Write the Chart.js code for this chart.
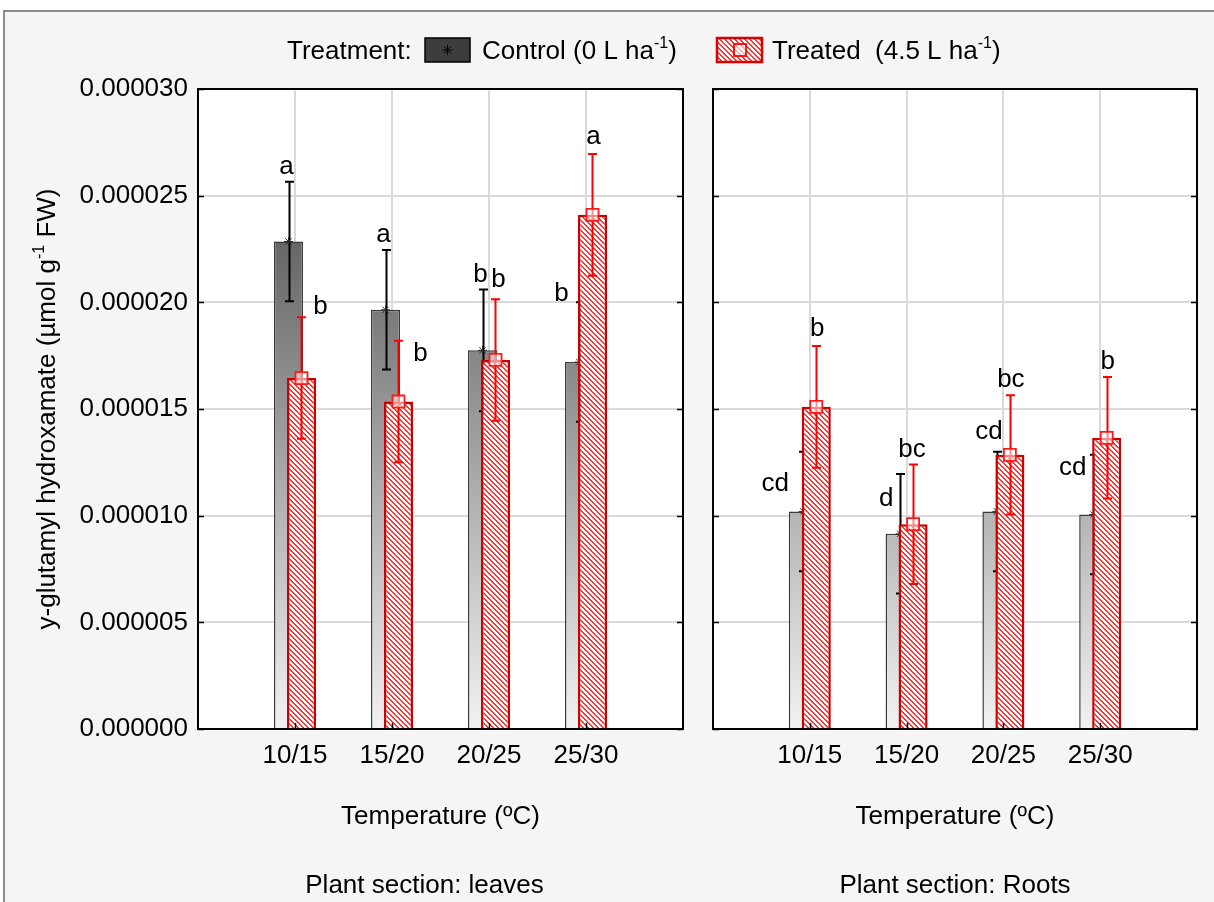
<!DOCTYPE html>
<html>
<head>
<meta charset="utf-8">
<script src="https://cdn.jsdelivr.net/npm/chart.js@4.4.1/dist/chart.umd.min.js"></script>
<style>
  html, body { margin: 0; padding: 0; background: #ffffff; width: 1214px; height: 902px; overflow: hidden; }
  #frame { position: absolute; left: 3px; top: 10px; width: 1300px; height: 1000px; background: #f5f5f5;
           border-left: 2px solid #8c8c8c; border-top: 2px solid #8c8c8c; }
  canvas { position: absolute; left: 0; top: 0; }
</style>
</head>
<body>
<div id="frame"></div>
<canvas id="leaves" width="1214" height="902"></canvas>
<canvas id="roots" width="1214" height="902"></canvas>
<script>
// ---- data: γ-glutamyl hydroxamate (µmol g-1 FW), mean ± error ----
const temperatures = ['10/15', '15/20', '20/25', '25/30'];
const yTickLabels = ['0.000000', '0.000005', '0.000010', '0.000015', '0.000020', '0.000025', '0.000030'];

const leavesControlMean = [22.85e-6, 19.65e-6, 17.75e-6, 17.2e-6];
const leavesControlErr  = [2.8e-6, 2.8e-6, 2.85e-6, 2.8e-6];
const leavesTreatedMean = [16.45e-6, 15.35e-6, 17.3e-6, 24.1e-6];
const leavesTreatedErr  = [2.85e-6, 2.85e-6, 2.85e-6, 2.85e-6];

const rootsControlMean = [10.2e-6, 9.15e-6, 10.2e-6, 10.05e-6];
const rootsControlErr  = [2.8e-6, 2.8e-6, 2.8e-6, 2.8e-6];
const rootsTreatedMean = [15.1e-6, 9.6e-6, 12.85e-6, 13.65e-6];
const rootsTreatedErr  = [2.85e-6, 2.8e-6, 2.8e-6, 2.85e-6];

// significance letters
const leavesControlLetters = ['a', 'a', 'b', 'b'];
const leavesTreatedLetters = ['b', 'b', 'b', 'a'];
const rootsControlLetters  = ['cd', 'd', 'cd', 'cd'];
const rootsTreatedLetters  = ['b', 'bc', 'bc', 'b'];

// ---- layout ----
const FONT = '"Liberation Sans", Arial, sans-serif';
const FS = 26;
const PLOT_TOP = 89, PLOT_BOTTOM = 729;
const BAR_SHIFT = 0.067;    // half the offset between the two bars of a group (axis units)
const BAR_FRAC = 0.30;      // bar width as a fraction of one category step
const GRID = '#dadada';

// letter offsets (px) from the top of each error bar
const leavesControlLetterPos = [[-2, -15], [-2, -15], [-2, -15], [-18, -9]];
const leavesTreatedLetterPos = [[19, -10], [22, 13], [3, -19], [1, -17]];
const rootsControlLetterPos  = [[-28, 32], [-14, 25], [-8, -20], [-21, 13]];
const rootsTreatedLetterPos  = [[1, -17], [-1, -15], [1, -15], [1, -15]];

// hatched fill for treated bars
function makeHatch() {
  const s = 5, c = document.createElement('canvas');
  c.width = s; c.height = s;
  const g = c.getContext('2d');
  const img = g.createImageData(s, s);
  for (let y = 0; y < s; y++) for (let x = 0; x < s; x++) {
    const k = (((x - y) % s) + s) % s;
    const red = k < 2;
    const p = (y * s + x) * 4;
    img.data[p] = 255; img.data[p + 1] = red ? 50 : 255; img.data[p + 2] = red ? 50 : 255; img.data[p + 3] = 255;
  }
  g.putImageData(img, 0, 0);
  return c;
}
const hatchTile = makeHatch();

function controlFill(chart) {
  const a = chart.chartArea;
  if (!a) return '#888';
  const gr = chart.ctx.createLinearGradient(0, a.top, 0, a.bottom);
  gr.addColorStop(0, '#3a3a3a');
  gr.addColorStop(1, '#f2f2f2');
  return gr;
}
function treatedFill(chart) {
  return chart.ctx.createPattern(hatchTile, 'repeat');
}

function richText(ctx, x, y, parts, size, align) {
  const fonts = parts.map(p => (p.sup ? Math.round(size * 0.62) : size) + 'px ' + FONT);
  let total = 0;
  const widths = parts.map((p, i) => { ctx.font = fonts[i]; const w = ctx.measureText(p.t).width; total += w; return w; });
  let cx = align === 'center' ? x - total / 2 : x;
  ctx.textAlign = 'left';
  ctx.textBaseline = 'alphabetic';
  parts.forEach((p, i) => {
    ctx.font = fonts[i];
    ctx.fillText(p.t, cx, y - (p.sup ? size * 0.42 : 0));
    cx += widths[i];
  });
}

function drawStar(ctx, x, y, r) {
  ctx.beginPath();
  for (let k = 0; k < 4; k++) {
    const a = k * Math.PI / 4;
    ctx.moveTo(x - r * Math.cos(a), y - r * Math.sin(a));
    ctx.lineTo(x + r * Math.cos(a), y + r * Math.sin(a));
  }
  ctx.stroke();
}

function drawLegend(ctx) {
  ctx.save();
  ctx.fillStyle = '#000';
  richText(ctx, 287, 59, [{ t: 'Treatment:' }], FS, 'left');
  // control swatch
  ctx.fillStyle = '#3d3d3d';
  ctx.fillRect(425, 38, 45, 24);
  ctx.strokeStyle = '#000'; ctx.lineWidth = 1.5;
  ctx.strokeRect(425, 38, 45, 24);
  ctx.strokeStyle = '#000'; ctx.lineWidth = 1;
  drawStar(ctx, 447.5, 50, 5);
  ctx.fillStyle = '#000';
  richText(ctx, 482, 59, [{ t: 'Control (0 L ha' }, { t: '-1', sup: true }, { t: ')' }], FS, 'left');
  // treated swatch
  ctx.fillStyle = ctx.createPattern(hatchTile, 'repeat');
  ctx.fillRect(717, 38, 45, 24);
  ctx.strokeStyle = '#dd0000'; ctx.lineWidth = 2.5;
  ctx.strokeRect(717, 38, 45, 24);
  ctx.strokeStyle = '#ff0000'; ctx.lineWidth = 1.8;
  ctx.fillStyle = 'rgba(255,255,255,0.6)';
  ctx.fillRect(734, 44, 12, 12);
  ctx.strokeRect(734, 44, 12, 12);
  ctx.fillStyle = '#000';
  richText(ctx, 772, 59, [{ t: 'Treated  (4.5 L ha' }, { t: '-1', sup: true }, { t: ')' }], FS, 'left');
  ctx.restore();
}

const panelDecor = {
  id: 'panelDecor',
  beforeDraw(chart) {
    const a = chart.chartArea, ctx = chart.ctx;
    ctx.save();
    ctx.fillStyle = '#ffffff';
    ctx.fillRect(a.left, a.top, a.right - a.left, a.bottom - a.top);
    ctx.restore();
  },
  afterDatasetDraw(chart, args) {
    const ds = chart.data.datasets[args.index];
    if (!ds.errors) return;
    const meta = args.meta, xs = meta.xScale, ys = meta.yScale, ctx = chart.ctx;
    ctx.save();
    ctx.strokeStyle = ds.errColor;
    ctx.lineWidth = 2;
    ds.data.forEach((pt, i) => {
      const x = Math.round(xs.getPixelForValue(pt.x)) + 0.5;
      const yT = ys.getPixelForValue(pt.y + ds.errors[i]);
      const yB = ys.getPixelForValue(pt.y - ds.errors[i]);
      ctx.beginPath();
      ctx.moveTo(x, yT); ctx.lineTo(x, yB);
      ctx.moveTo(x - 4.5, yT); ctx.lineTo(x + 4.5, yT);
      ctx.moveTo(x - 4.5, yB); ctx.lineTo(x + 4.5, yB);
      ctx.stroke();
    });
    ctx.restore();
  },
  afterDraw(chart, args, opts) {
    const a = chart.chartArea, ctx = chart.ctx;
    const y = chart.scales.y, x = chart.scales.x;
    ctx.save();
    // frame
    ctx.strokeStyle = '#000';
    ctx.lineWidth = 2;
    ctx.strokeRect(a.left, a.top, a.right - a.left, a.bottom - a.top);
    // inward ticks
    ctx.lineWidth = 1.5;
    ctx.beginPath();
    y.ticks.forEach(t => {
      const py = Math.round(y.getPixelForValue(t.value)) + 0.5;
      ctx.moveTo(a.left, py); ctx.lineTo(a.left + 6, py);
      ctx.moveTo(a.right, py); ctx.lineTo(a.right - 6, py);
    });
    for (let i = 1; i <= temperatures.length; i++) {
      const px = Math.round(x.getPixelForValue(i)) + 0.5;
      ctx.moveTo(px, a.bottom); ctx.lineTo(px, a.bottom - 6);
    }
    ctx.stroke();

    // significance letters
    ctx.fillStyle = '#000';
    ctx.font = FS + 'px ' + FONT;
    ctx.textAlign = 'center';
    ctx.textBaseline = 'middle';
    chart.data.datasets.forEach((ds, di) => {
      if (!ds.letters) return;
      const meta = chart.getDatasetMeta(di);
      ds.data.forEach((pt, i) => {
        const bx = meta.xScale.getPixelForValue(pt.x);
        const top = meta.yScale.getPixelForValue(pt.y + ds.errors[i]);
        const off = ds.letterPos[i];
        ctx.fillText(ds.letters[i], bx + off[0], top + off[1]);
      });
    });

    // axis and panel titles
    const midX = (a.left + a.right) / 2;
    richText(ctx, midX, a.bottom + 95, [{ t: 'Temperature (ºC)' }], FS, 'center');
    richText(ctx, midX + opts.sectionShift, a.bottom + 164, [{ t: opts.section }], FS, 'center');

    if (opts.yTitle) {
      ctx.save();
      ctx.translate(55, (a.top + a.bottom) / 2);
      ctx.rotate(-Math.PI / 2);
      richText(ctx, 0, 0, [{ t: 'y-glutamyl hydroxamate (µmol g' }, { t: '-1', sup: true }, { t: ' FW)' }], FS, 'center');
      ctx.restore();
    }
    if (opts.legend) drawLegend(ctx);
    ctx.restore();
  }
};

function makeDatasets(cMean, cErr, cLet, cPos, tMean, tErr, tLet, tPos) {
  const pts = arr => arr.map((v, i) => ({ x: i + 1, y: v }));
  return [
    { type: 'bar', label: 'Control', xAxisID: 'xC', yAxisID: 'y', data: pts(cMean),
      errors: cErr, errColor: '#000000', letters: cLet, letterPos: cPos,
      backgroundColor: c => controlFill(c.chart), borderColor: '#3a3a3a', borderWidth: 1.5,
      borderSkipped: 'bottom', grouped: false, categoryPercentage: 1, barPercentage: BAR_FRAC, order: 4 },
    { type: 'scatter', xAxisID: 'xC', yAxisID: 'y', data: pts(cMean),
      pointStyle: 'star', pointRadius: 4.5, borderColor: '#2a2a2a', borderWidth: 1,
      backgroundColor: 'transparent', order: 3 },
    { type: 'bar', label: 'Treated', xAxisID: 'xT', yAxisID: 'y', data: pts(tMean),
      errors: tErr, errColor: '#ff0000', letters: tLet, letterPos: tPos,
      backgroundColor: c => treatedFill(c.chart), borderColor: '#cc0000', borderWidth: 2.5,
      borderSkipped: 'bottom', grouped: false, categoryPercentage: 1, barPercentage: BAR_FRAC, order: 2 },
    { type: 'scatter', xAxisID: 'xT', yAxisID: 'y', data: pts(tMean),
      pointStyle: 'rect', pointRadius: 8.5, borderColor: '#ff1a1a', borderWidth: 1.8,
      backgroundColor: 'rgba(255,255,255,0.55)', order: 1 }
  ];
}

function makeOptions(plotLeft, plotRight, showYLabels, extra) {
  const nCat = temperatures.length + 1;
  const hiddenX = shift => ({ type: 'linear', display: false, offset: false, grid: { offset: false },
                              min: shift, max: nCat + shift,
                              ticks: { stepSize: 1, includeBounds: false } });
  return {
    responsive: false, animation: false, devicePixelRatio: 1, events: [],
    layout: { padding: { top: PLOT_TOP, left: 0, right: 1214 - plotRight, bottom: 0 } },
    scales: {
      x: { type: 'linear', position: 'bottom', min: 0, max: nCat, offset: false,
           afterFit: s => { s.height = 902 - PLOT_BOTTOM; },
           grid: { offset: false, color: GRID, lineWidth: 2, drawTicks: false },
           border: { display: false },
           ticks: { stepSize: 1, autoSkip: false, maxRotation: 0, padding: 11, color: '#000',
                    font: { family: FONT, size: FS },
                    callback: v => temperatures[v - 1] || '' } },
      xC: hiddenX(BAR_SHIFT),
      xT: hiddenX(-BAR_SHIFT),
      y: { type: 'linear', min: 0, max: 30e-6,
           afterFit: s => { s.width = plotLeft; },
           grid: { color: GRID, lineWidth: 2, drawTicks: false },
           border: { display: false },
           ticks: { display: showYLabels, stepSize: 5e-6, padding: 10, color: '#000',
                    font: { family: FONT, size: FS },
                    callback: (v, i) => yTickLabels[i] } }
    },
    plugins: { legend: { display: false }, tooltip: { enabled: false }, panelDecor: extra }
  };
}

new Chart(document.getElementById('leaves'), {
  type: 'bar',
  data: { datasets: makeDatasets(leavesControlMean, leavesControlErr, leavesControlLetters, leavesControlLetterPos,
                                 leavesTreatedMean, leavesTreatedErr, leavesTreatedLetters, leavesTreatedLetterPos) },
  options: makeOptions(198, 683, true, { section: 'Plant section: leaves', sectionShift: -16, yTitle: true, legend: true }),
  plugins: [panelDecor]
});

new Chart(document.getElementById('roots'), {
  type: 'bar',
  data: { datasets: makeDatasets(rootsControlMean, rootsControlErr, rootsControlLetters, rootsControlLetterPos,
                                 rootsTreatedMean, rootsTreatedErr, rootsTreatedLetters, rootsTreatedLetterPos) },
  options: makeOptions(713, 1197, false, { section: 'Plant section: Roots', sectionShift: 0, yTitle: false, legend: false }),
  plugins: [panelDecor]
});
</script>
</body>
</html>
